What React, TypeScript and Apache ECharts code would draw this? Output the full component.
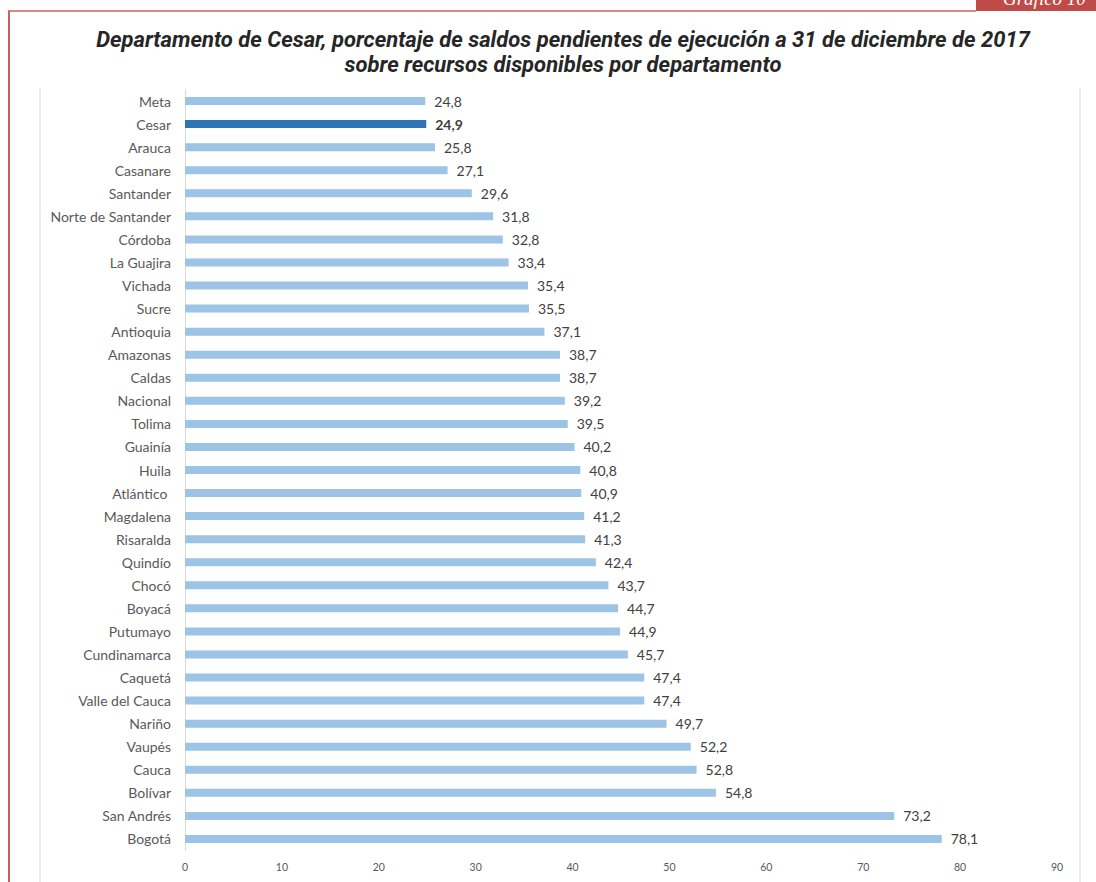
import React, { useEffect, useRef } from "react";
import * as echarts from "echarts";

const categories = [
  "Meta", "Cesar", "Arauca", "Casanare", "Santander", "Norte de Santander", "Córdoba",
  "La Guajira", "Vichada", "Sucre", "Antioquia", "Amazonas", "Caldas", "Nacional",
  "Tolima", "Guainía", "Huila", "Atlántico ", "Magdalena", "Risaralda", "Quindío",
  "Chocó", "Boyacá", "Putumayo", "Cundinamarca", "Caquetá", "Valle del Cauca",
  "Nariño", "Vaupés", "Cauca", "Bolívar", "San Andrés", "Bogotá",
];
const values = [
  24.8, 24.9, 25.8, 27.1, 29.6, 31.8, 32.8, 33.4, 35.4, 35.5, 37.1, 38.7, 38.7, 39.2,
  39.5, 40.2, 40.8, 40.9, 41.2, 41.3, 42.4, 43.7, 44.7, 44.9, 45.7, 47.4, 47.4, 49.7,
  52.2, 52.8, 54.8, 73.2, 78.1,
];
const highlight = "Cesar";
const titleLines = [
  "Departamento de Cesar, porcentaje de saldos pendientes de ejecución a 31 de diciembre de 2017",
  "sobre recursos disponibles por departamento",
];
const tabText = "Gráfico 10";

export default function App() {
  const ref = useRef<HTMLDivElement>(null);
  useEffect(() => {
    if (!ref.current) return;
    const chart = echarts.init(ref.current, null, { renderer: "svg" });
    const data = values.map((v, i) =>
      categories[i] === highlight
        ? {
            value: v,
            itemStyle: { color: "#2E75B6" },
            label: { fontWeight: "bold" as const },
          }
        : { value: v }
    );
    chart.setOption({
      animation: false,
      backgroundColor: "#ffffff",
      title: {
        text: titleLines.join("\n"),
        left: 558,
        textAlign: "center",
        top: 22,
        textStyle: {
          fontFamily: "Roboto",
          fontStyle: "italic",
          fontWeight: "bold",
          fontSize: 22,
          lineHeight: 25,
          color: "#262626",
        },
      },
      grid: { left: 185, right: 39, top: 89.5, bottom: 31.5, containLabel: false },
      xAxis: {
        type: "value",
        min: 0,
        max: 90,
        interval: 10,
        axisLine: { show: false },
        axisTick: { show: false },
        splitLine: { show: false },
        axisLabel: { color: "#595959", fontSize: 10.5, fontFamily: "Lato", margin: 11 },
      },
      yAxis: {
        type: "category",
        data: categories,
        inverse: true,
        axisLine: { show: true, lineStyle: { color: "#d9d9d9", width: 1 } },
        axisTick: { show: false },
        axisLabel: { color: "#595959", fontSize: 14, fontFamily: "Lato", margin: 14 },
      },
      series: [
        {
          type: "bar",
          data,
          barWidth: 8,
          itemStyle: { color: "#9DC3E6" },
          label: {
            show: true,
            position: "right",
            distance: 9,
            color: "#404040",
            fontSize: 14,
            fontFamily: "Lato",
            formatter: (p: any) => String(p.value).replace(".", ","),
          },
        },
      ],
      graphic: [
        { type: "line", shape: { x1: 40, y1: 88, x2: 40, y2: 882 }, style: { stroke: "#d9d9d9", lineWidth: 1 } },
        { type: "line", shape: { x1: 1080, y1: 88, x2: 1080, y2: 882 }, style: { stroke: "#d9d9d9", lineWidth: 1 } },
        { type: "line", shape: { x1: 9, y1: 11, x2: 9, y2: 882 }, style: { stroke: "#c8605c", lineWidth: 2 } },
        { type: "line", shape: { x1: 8, y1: 11, x2: 976, y2: 11 }, style: { stroke: "#c8605c", lineWidth: 1.5 } },
        { type: "rect", shape: { x: 976, y: 0, width: 120, height: 11 }, style: { fill: "#be4b48" } },
        {
          type: "text",
          x: 1003,
          y: 8,
          style: {
            text: tabText,
            fill: "#ffffff",
            font: "italic 19px 'Liberation Serif'",
            textVerticalAlign: "bottom",
          },
        },
      ],
    });
    return () => chart.dispose();
  }, []);
  return (
    <div
      ref={ref}
      style={{ position: "fixed", left: 0, top: 0, width: 1096, height: 882 }}
    />
  );
}
